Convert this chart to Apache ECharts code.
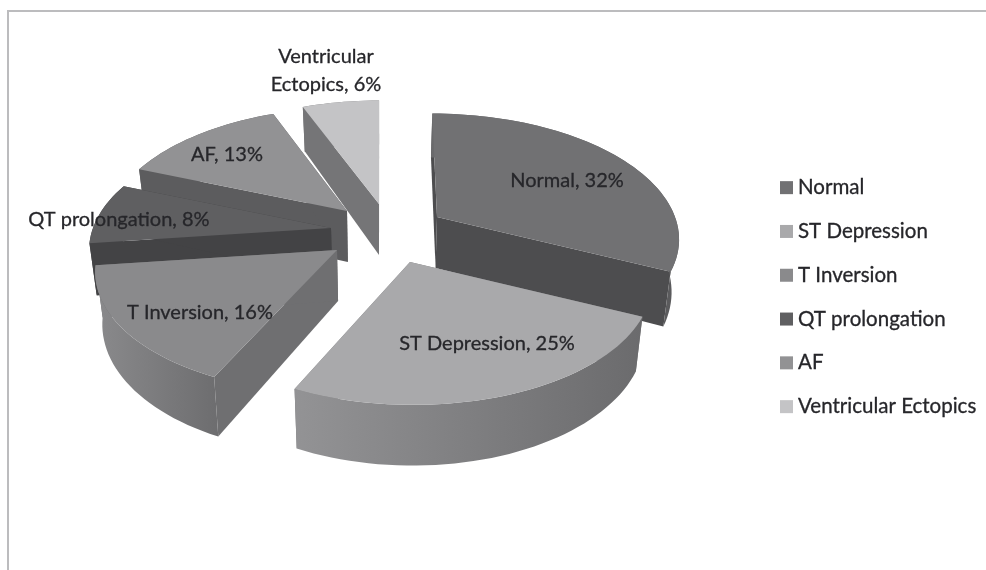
<!DOCTYPE html>
<html>
<head>
<meta charset="utf-8">
<style>
html,body{margin:0;padding:0;background:#fff;}
#chart{width:986px;height:570px;filter:blur(0.55px);}
</style>
<script src="https://cdn.jsdelivr.net/npm/echarts@6/dist/echarts.min.js"></script>
</head>
<body>
<div id="chart"></div>
<script>
const categories = ['Normal', 'ST Depression', 'T Inversion', 'QT prolongation', 'AF', 'Ventricular Ectopics'];
const percentValues = [32, 25, 16, 8, 13, 6];

// styling and layout, by category
const topColors = ['#717173', '#a9a9ab', '#8a8a8c', '#5f5f61', '#929294', '#c4c4c6'];
const radialWallColors = ['#4d4d4f', '#7a7a7c', '#6f6f71', '#434345', '#5c5c5e', '#757577'];
const arcWallStops = [['#6a6a6c', '#5a5a5c'], ['#939395', '#6b6b6d'], ['#8a8a8c', '#6d6d6f'], ['#434345', '#434345'], ['#5c5c5e', '#5c5c5e'], ['#757577', '#757577']];
const apexX = [437, 410, 337, 331, 347, 379];
const apexY = [217, 262, 250, 228, 211, 204];
const labelX = [567, 487, 200, 119, 227, 326];
const labelY = [181, 344, 313, 220, 155, 71];
const labelLines = ['Normal, 32%', 'ST Depression, 25%', 'T Inversion, 16%', 'QT prolongation, 8%', 'AF, 13%', 'Ventricular\nEctopics, 6%'];
const paintOrder = [5, 4, 3, 2, 0, 1];

const RX = 238, RY = 120, PERSP = 0.16, DEPTH = 51, VANISH_X = 380, VANISH_GAIN = 0.6, DROP_SHRINK = 0.975;
const FONT = '20px Lato, "Open Sans", sans-serif';

const total = percentValues.reduce((a, b) => a + b, 0);
function project(i, deg, r, drop) {
  const a = deg * Math.PI / 180;
  const X = Math.sin(a) * r, Y = Math.cos(a) * r;
  const s = 1 / (1 + PERSP * Y);
  let px = apexX[i] + RX * X * s + (VANISH_X - apexX[i]) * (1 - s) * VANISH_GAIN;
  if (drop) px = VANISH_X + (px - VANISH_X) * DROP_SHRINK;
  return [px, apexY[i] - RY * Y * s + (drop ? DEPTH * s : 0)];
}
function makeRender(i, startDeg) {
  return function (params, api) {
    const sweep = api.value(0) / total * 360;
    const arcTop = [], arcLow = [];
    const n = Math.max(8, Math.ceil(sweep / 2));
    for (let k = 0; k <= n; k++) {
      const d = startDeg + sweep * k / n;
      arcTop.push(project(i, d, 1, false));
      arcLow.push(project(i, d, 1, true));
    }
    const apexT = project(i, 0, 0, false), apexL = project(i, 0, 0, true);
    const wall = pts => ({ type: 'polygon', shape: { points: pts }, style: { fill: radialWallColors[i] }, silent: true });
    const children = [
      wall([apexT, arcTop[0], arcLow[0], apexL]),
      wall([apexT, arcTop[n], arcLow[n], apexL]),
      { type: 'polygon', shape: { points: arcTop.concat(arcLow.slice().reverse()) }, silent: true,
        style: { fill: new echarts.graphic.LinearGradient(0, 0, 1, 0, [
          { offset: 0, color: arcWallStops[i][0] }, { offset: 1, color: arcWallStops[i][1] }]) } },
      { type: 'polygon', shape: { points: [apexT].concat(arcTop) }, style: { fill: topColors[i] }, silent: true },
      { type: 'text', z2: 100, silent: true, style: {
        text: labelLines[i], x: labelX[i], y: labelY[i], align: 'center', verticalAlign: 'middle',
        fill: '#26262a', stroke: '#26262a', lineWidth: 0.3, font: FONT, lineHeight: 28 } }
    ];
    return { type: 'group', children };
  };
}

const starts = [];
percentValues.reduce((acc, v, i) => { starts[i] = acc; return acc + v / total * 360; }, 0);

const chart = echarts.init(document.getElementById('chart'), null, { renderer: 'canvas' });
chart.setOption({
  animation: false,
  backgroundColor: '#ffffff',
  legend: {
    orient: 'vertical', left: 775, top: 172, itemWidth: 13, itemHeight: 13, itemGap: 22.5,
    icon: 'rect', data: categories, selectedMode: false,
    textStyle: { color: '#26262a', fontFamily: 'Lato', fontSize: 20.5, textBorderColor: '#26262a', textBorderWidth: 0.3, height: 20, lineHeight: 20 }
  },
  graphic: [
    { type: 'polyline', silent: true, shape: { points: [[8, 570], [8, 11], [986, 11]] }, style: { stroke: '#bcbcbe', lineWidth: 2, fill: 'none' } }
  ],
  series: paintOrder.map(i => ({
    type: 'custom', name: categories[i], coordinateSystem: 'none',
    itemStyle: { color: topColors[i] },
    renderItem: makeRender(i, starts[i]),
    data: [percentValues[i]]
  }))
});
</script>
</body>
</html>
